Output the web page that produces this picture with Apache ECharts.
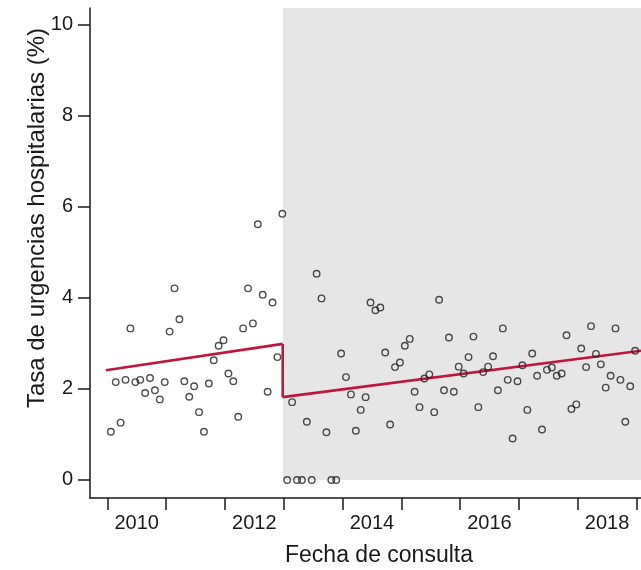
<!DOCTYPE html>
<html>
<head>
<meta charset="utf-8">
<script src="https://cdn.jsdelivr.net/npm/echarts@6/dist/echarts.min.js"></script>
<style>
  html, body { margin: 0; padding: 0; background: #fff; }
  #chart { width: 641px; height: 570px; }
</style>
</head>
<body>
<div id="chart"></div>
<script>
// Monthly rate of hospital emergencies (%), Jan 2010 – Dec 2012
const preRates = [
  1.06, 2.15, 1.26, 2.20, 3.33, 2.15, 2.20, 1.91, 2.24, 1.97, 1.77, 2.15,
  3.26, 4.21, 3.53, 2.17, 1.83, 2.06, 1.49, 1.06, 2.12, 2.63, 2.95, 3.07,
  2.34, 2.17, 1.39, 3.33, 4.21, 3.44, 5.62, 4.07, 1.94, 3.90, 2.70, 5.85
];
// Monthly rate of hospital emergencies (%), Jan 2013 – Dec 2018
const postRates = [
  0.00, 1.71, 0.00, 0.00, 1.28, 0.00, 4.53, 3.99, 1.05, 0.00, 0.00, 2.78,
  2.26, 1.88, 1.08, 1.54, 1.82, 3.90, 3.73, 3.79, 2.80, 1.22, 2.48, 2.58,
  2.95, 3.10, 1.94, 1.60, 2.23, 2.32, 1.49, 3.96, 1.97, 3.13, 1.94, 2.49,
  2.34, 2.70, 3.15, 1.60, 2.37, 2.49, 2.72, 1.97, 3.33, 2.20, 0.91, 2.17,
  2.52, 1.54, 2.78, 2.29, 1.11, 2.42, 2.47, 2.29, 2.34, 3.18, 1.56, 1.66,
  2.89, 2.48, 3.38, 2.77, 2.54, 2.03, 2.29, 3.33, 2.20, 1.28, 2.06, 2.84
];
// Fitted segmented trend: [months since Jan 2010, rate %]
const preTrend = [[-0.3, 2.41], [35.8, 2.99]];
const postTrend = [[35.8, 1.82], [108.92, 2.84]];
// Start of the post-intervention period (months since Jan 2010)
const interventionStart = 35.86;

const firstYear = 2010;
const yearTickMonths = [0, 12, 24, 36, 48, 60, 72, 84, 96, 108];
const yearLabelMonths = [6, 30, 54, 78, 102];
const rateTicks = [0, 2, 4, 6, 8, 10];

// Axis extents (months since Jan 2010 / rate %)
const X_MIN = -3.53, X_MAX = 108.92;
const Y_MIN = -0.396, Y_MAX = 10.37;

const allRates = preRates.concat(postRates);
const points = allRates.map((v, i) => [i + 0.72, v]);

const FONT = '"Liberation Sans", Arial, Helvetica, sans-serif';
const INK = '#1a1a1a';
const TREND = '#c0163e';

const chart = echarts.init(document.getElementById('chart'), null, { renderer: 'canvas' });

chart.setOption({
  animation: false,
  backgroundColor: '#ffffff',
  grid: { left: 90, right: 0, top: 8, bottom: 72, containLabel: false },
  xAxis: {
    type: 'value',
    min: X_MIN,
    max: X_MAX,
    splitLine: { show: false },
    axisLine: { show: true, onZero: false, lineStyle: { color: INK, width: 1.5 } },
    axisTick: {
      show: true, customValues: yearTickMonths, length: 12, inside: false,
      lineStyle: { color: INK, width: 1.5 }
    },
    axisLabel: {
      customValues: yearLabelMonths,
      formatter: v => String(firstYear + Math.round((v - 6) / 12)),
      margin: 15, color: INK, fontFamily: FONT, fontSize: 20
    }
  },
  yAxis: {
    type: 'value',
    min: Y_MIN,
    max: Y_MAX,
    splitLine: { show: false },
    axisLine: { show: true, onZero: false, lineStyle: { color: INK, width: 1.5 } },
    axisTick: {
      show: true, customValues: rateTicks, length: 12,
      lineStyle: { color: INK, width: 1.5 }
    },
    axisLabel: {
      customValues: rateTicks,
      margin: 17, color: INK, fontFamily: FONT, fontSize: 20
    }
  },
  graphic: [
    {
      type: 'text',
      x: 379, y: 556,
      style: {
        text: 'Fecha de consulta', fill: INK, font: '23px ' + FONT,
        align: 'center', verticalAlign: 'middle'
      }
    },
    {
      type: 'text',
      x: 37, y: 218, rotation: Math.PI / 2,
      style: {
        text: 'Tasa de urgencias hospitalarias (%)', fill: INK, font: '24px ' + FONT,
        align: 'center', verticalAlign: 'middle'
      }
    }
  ],
  series: [
    {
      name: 'periodo',
      type: 'line',
      data: [],
      silent: true,
      markArea: {
        silent: true,
        itemStyle: { color: '#e6e6e6' },
        data: [[{ coord: [interventionStart, 0] }, { coord: [X_MAX, Y_MAX] }]]
      },
      z: 1
    },
    {
      name: 'tendencia previa',
      type: 'line',
      data: preTrend,
      showSymbol: false,
      lineStyle: { color: TREND, width: 2.6 },
      z: 3
    },
    {
      name: 'tendencia posterior',
      type: 'line',
      data: postTrend,
      showSymbol: false,
      lineStyle: { color: TREND, width: 2.6 },
      z: 3
    },
    {
      name: 'escalon',
      type: 'line',
      data: [preTrend[1], postTrend[0]],
      showSymbol: false,
      lineStyle: { color: TREND, width: 2.6 },
      z: 3
    },
    {
      name: 'tasa',
      type: 'scatter',
      data: points,
      symbol: 'circle',
      symbolSize: 6.5,
      itemStyle: { color: 'rgba(0,0,0,0)', borderColor: '#222222', borderWidth: 1.4 },
      z: 4
    }
  ]
});
</script>
</body>
</html>
